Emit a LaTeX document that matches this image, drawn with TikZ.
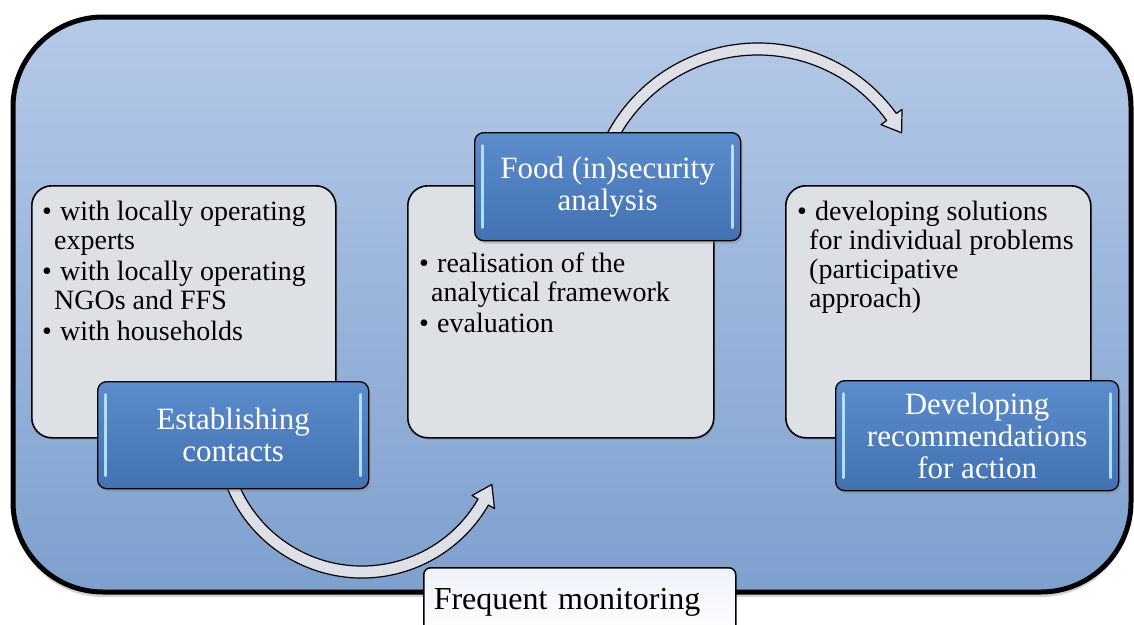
\documentclass[tikz,border=0pt]{standalone}
\usepackage{fontspec}
\setmainfont{Liberation Serif}
\usetikzlibrary{shadows}
\definecolor{outertop}{RGB}{181,201,232}
\definecolor{outerbot}{RGB}{126,160,206}
\definecolor{grayfill}{RGB}{221,224,229}
\definecolor{bluetop}{RGB}{92,140,204}
\definecolor{bluebot}{RGB}{66,114,178}
\definecolor{glint}{RGB}{178,222,250}
\definecolor{arrowfill}{RGB}{222,223,231}
\definecolor{freqtop}{RGB}{238,242,249}
\newcommand{\bul}{\makebox[18pt][l]{\textbullet}}
\newcommand{\ind}{\hspace*{12pt}}
\begin{document}
\begin{tikzpicture}[x=1pt,y=-1pt,
  outerbox/.style={draw=black, line width=5pt, top color=outertop, bottom color=outerbot,
    rounded corners=90pt, drop shadow={opacity=0.35, shadow xshift=0pt, shadow yshift=-5pt}},
  graybox/.style={draw=black, line width=1.6pt, fill=grayfill, rounded corners=20pt,
    anchor=north west, inner sep=0pt,
    drop shadow={opacity=0.25, shadow xshift=1.5pt, shadow yshift=-2pt}},
  bluebox/.style={draw=black, line width=1.3pt, top color=bluetop, bottom color=bluebot,
    rounded corners=9pt, anchor=north west, text=white, align=center,
    font=\fontsize{31}{32}\selectfont,
    drop shadow={opacity=0.35, shadow xshift=2pt, shadow yshift=-3pt},
    path picture={
      \draw[glint, line width=3pt, line cap=round]
        ([xshift=8pt,yshift=-13pt]path picture bounding box.north west) --
        ([xshift=8pt,yshift=13pt]path picture bounding box.south west);
      \draw[glint, line width=3pt, line cap=round]
        ([xshift=-8pt,yshift=-13pt]path picture bounding box.north east) --
        ([xshift=-8pt,yshift=13pt]path picture bounding box.south east);}},
  bullettext/.style={anchor=base west, inner sep=0pt, text=black,
    font=\fontsize{28}{29}\selectfont},
  arrowst/.style={draw=black, line width=1.2pt, fill=arrowfill, line join=round},
  freqbox/.style={draw=black, line width=1.5pt, top color=freqtop, bottom color=white,
    rounded corners=7pt, anchor=north west, inner xsep=10pt, text width=292pt,
    minimum height=70pt, align=left, font=\fontsize{32}{34}\selectfont}
]
\useasboundingbox (0,0) rectangle (1134,624);

% outer frame
\path[outerbox] (13,17) rectangle (1131,592);

% curved arrows
\coordinate (c1) at (362,432);
\coordinate (c2) at (758,214);
\path[arrowst] ([shift={(c1)}]160:146) arc[start angle=160, end angle=30, radius=146]
  -- ([shift={(c1)}]30:153) -- ([shift={(c1)}]22:140) -- ([shift={(c1)}]30:127)
  -- ([shift={(c1)}]30:134) arc[start angle=30, end angle=160, radius=134] -- cycle;
\path[arrowst] ([shift={(c2)}]207:171) arc[start angle=207, end angle=324, radius=171]
  -- ([shift={(c2)}]324:178) -- ([shift={(c2)}]330.5:165) -- ([shift={(c2)}]324:152)
  -- ([shift={(c2)}]324:159) arc[start angle=324, end angle=207, radius=159] -- cycle;

% gray content boxes
\node[graybox, minimum width=304pt, minimum height=252pt] (g1) at (31,185) {};
\node[graybox, minimum width=306pt, minimum height=252pt] (g2) at (407,185) {};
\node[graybox, minimum width=305pt, minimum height=252pt] (g3) at (785,185) {};

\node[bullettext] (t1) at (42,220) {\parbox[t]{290pt}{\raggedright
  \bul with locally operating\\
  \ind experts\\[2pt]
  \bul with locally operating\\
  \ind NGOs and FFS\\[2pt]
  \bul with households}};
\node[bullettext] (t2) at (419,272) {\parbox[t]{290pt}{\raggedright
  \bul realisation of the\\
  \ind analytical framework\\[2pt]
  \bul evaluation}};
\node[bullettext] (t3) at (797,220) {\parbox[t]{290pt}{\raggedright
  \bul developing solutions\\
  \ind for individual problems\\
  \ind (participative\\
  \ind approach)}};

% blue title boxes
\node[bluebox, minimum width=271pt, minimum height=107pt] (b1) at (97,381) {Establishing\\contacts};
\node[bluebox, minimum width=266pt, minimum height=108pt] (b2) at (474,132) {Food (in)security\\analysis};
\node[bluebox, minimum width=283pt, minimum height=110pt] (b3) at (835,380) {Developing\\recommendations\\for action};

% bottom label
\node[freqbox] (fm) at (423,567) {Frequent monitoring};
\end{tikzpicture}
\end{document}
